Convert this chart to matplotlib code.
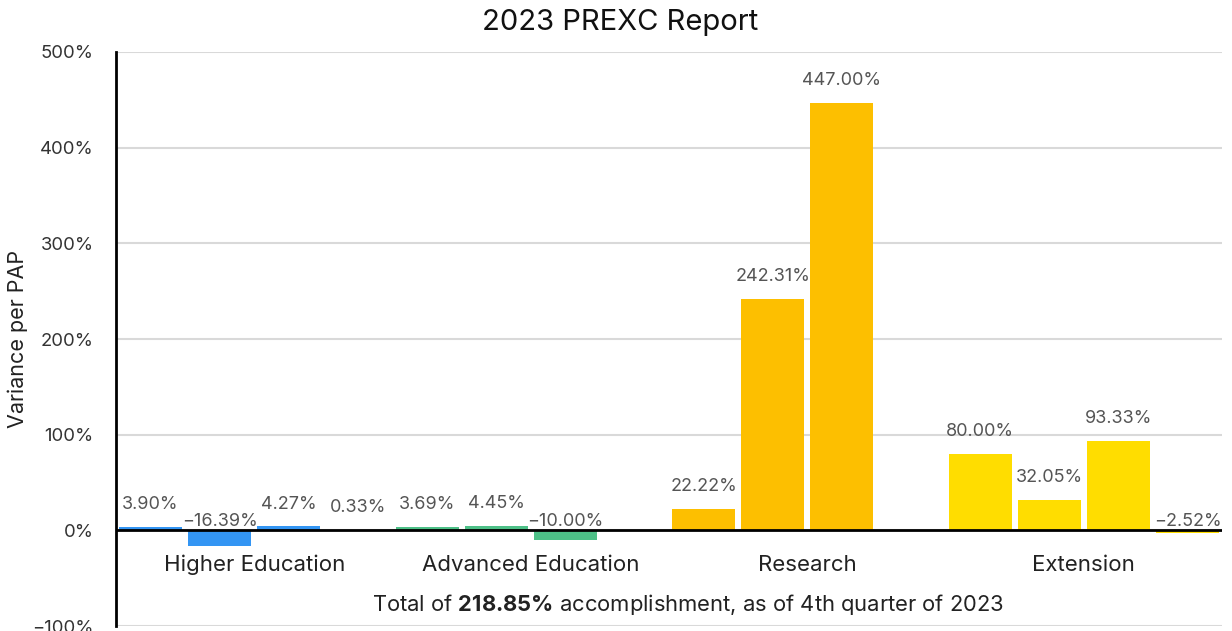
import matplotlib.pyplot as plt
import numpy as np

plt.rcParams['font.family'] = ['Inter', 'DejaVu Sans']
plt.rcParams['mathtext.fontset'] = 'custom'
plt.rcParams['mathtext.rm'] = 'Inter'
plt.rcParams['mathtext.bf'] = 'Inter:bold'

categories = ["Higher Education", "Advanced Education", "Research", "Extension"]
higher_ed = [3.90, -16.39, 4.27, 0.33]
advanced_ed = [3.69, 4.45, -10.00, None]
research = [22.22, 242.31, 447.00, None]
extension = [80.00, 32.05, 93.33, -2.52]
colors = ["#3395F3", "#4DC087", "#FDBF00", "#FFDD00"]
y_ticks = [-100, 0, 100, 200, 300, 400, 500]
total_pct = "218.85"

groups = [higher_ed, advanced_ed, research, extension]

fig = plt.figure(figsize=(12.32, 6.31), dpi=100)
ax = fig.add_axes([0.0942, 0.0079, 0.8977, 0.9097])

slot = 0.25
width = 0.228
for g, (vals, col) in enumerate(zip(groups, colors)):
    for i, v in enumerate(vals):
        if v is None:
            continue
        x = g - 0.5 + slot / 2 + slot * i
        ax.bar(x, v, width=width, color=col, zorder=2)
        if v >= 0:
            ax.annotate(f"{v:.2f}%", (x, v), xytext=(0, 16), textcoords='offset points',
                        ha='center', va='center', fontsize=13, color='#555555')
        else:
            ax.annotate(f"{v:.2f}%".replace("-", "\u2212"), (x, 0), xytext=(0, 6.5),
                        textcoords='offset points', ha='center', va='center',
                        fontsize=13, color='#555555')

for g, name in enumerate(categories):
    ax.text(g, -36, name, ha='center', va='center', fontsize=16, color='#222222')

ax.text(1.57, -77, r"Total of $\mathbf{" + total_pct + r"\%}$ accomplishment, as of 4th quarter of 2023",
        ha='center', va='center', fontsize=15.8, color='#222222')

ax.set_xlim(-0.5, 3.5)
ax.set_ylim(-100, 500)
ax.set_yticks(y_ticks)
ax.set_yticklabels([f"{t}%".replace("-", "\u2212") for t in y_ticks], fontsize=13.3, color='#333333')
ax.set_xticks([])
ax.tick_params(axis='y', length=0, pad=16)
ax.grid(axis='y', color='#d9d9d9', linewidth=1.5, zorder=0)
ax.axhline(0, color='black', linewidth=2, zorder=3)
for s in ['top', 'right', 'bottom']:
    ax.spines[s].set_visible(False)
ax.spines['left'].set_linewidth(2)
ax.set_ylabel("Variance per PAP", fontsize=15.5, color='#222222')
ax.yaxis.set_label_coords(-0.0796, 0.5)
fig.text(0.503, 0.965, "2023 PREXC Report", ha='center', va='center', fontsize=21, color='#111111')

fig.savefig("out.png", dpi=100)
